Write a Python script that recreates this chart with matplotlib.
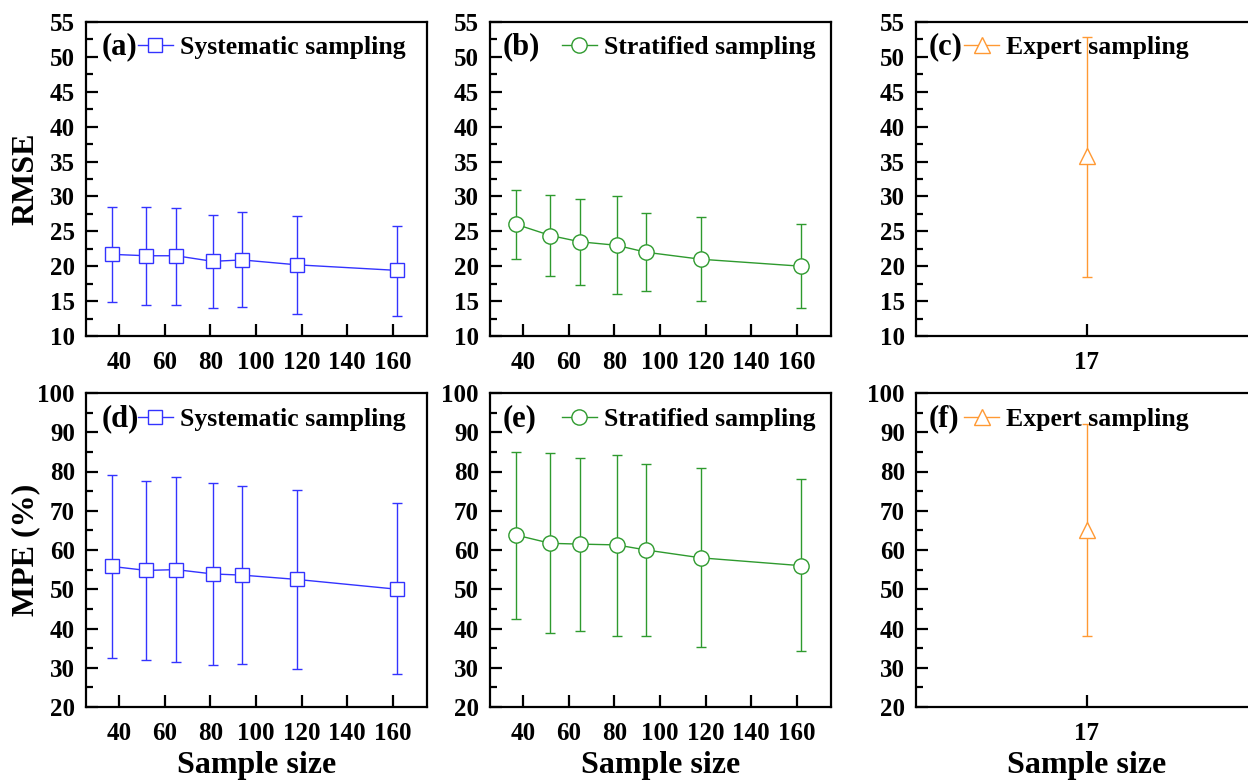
import matplotlib
matplotlib.use("Agg")
import matplotlib.pyplot as plt
from matplotlib.lines import Line2D
from matplotlib.ticker import MultipleLocator

plt.rcParams['font.family'] = ['Liberation Serif', 'DejaVu Serif']
plt.rcParams['font.weight'] = 'bold'

# sample sizes
n_sys = [37, 52, 65, 81, 94, 118, 162]
n_str = [37, 52, 65, 81, 94, 118, 162]
n_exp = [17]

# RMSE (mean, upper, lower)
rmse_sys = [21.7, 21.5, 21.5, 20.7, 20.9, 20.2, 19.4]
rmse_sys_hi = [28.5, 28.5, 28.4, 27.4, 27.8, 27.2, 25.8]
rmse_sys_lo = [14.9, 14.5, 14.5, 14.0, 14.1, 13.2, 12.9]
rmse_str = [26.0, 24.4, 23.5, 23.0, 22.0, 21.0, 20.0]
rmse_str_hi = [30.9, 30.2, 29.7, 30.0, 27.6, 27.0, 26.1]
rmse_str_lo = [21.0, 18.6, 17.3, 16.0, 16.4, 15.0, 14.0]
rmse_exp = [35.8]
rmse_exp_hi = [52.8]
rmse_exp_lo = [18.5]

# MPE (%) (mean, upper, lower)
mpe_sys = [55.8, 54.8, 55.0, 53.9, 53.6, 52.5, 50.0]
mpe_sys_hi = [79.2, 77.5, 78.6, 77.1, 76.3, 75.4, 72.0]
mpe_sys_lo = [32.4, 31.9, 31.4, 30.7, 31.0, 29.6, 28.3]
mpe_str = [63.8, 61.7, 61.5, 61.3, 60.0, 58.0, 56.0]
mpe_str_hi = [85.0, 84.6, 83.4, 84.3, 82.0, 80.9, 78.0]
mpe_str_lo = [42.3, 38.8, 39.3, 38.0, 38.0, 35.2, 34.2]
mpe_exp = [65.0]
mpe_exp_hi = [92.0]
mpe_exp_lo = [38.0]

c_sys = '#3333ff'
c_str = '#2e9a2e'
c_exp = '#ff9933'

W, H = 1248, 781
fig = plt.figure(figsize=(W / 100, H / 100), dpi=100)


def make_ax(left, top):
    return fig.add_axes([left / W, 1 - (top + 314) / H, 341 / W, 314 / H])


def panel(ax, x, y, hi, lo, color, marker, ms, label, tag, tag_x, leg_x, leg_y):
    yerr = [[m - l for m, l in zip(y, lo)], [h - m for m, h in zip(y, hi)]]
    ax.errorbar(x, y, yerr=yerr, color=color, lw=1.0, elinewidth=1.0,
                capsize=3.6, capthick=1.0, marker=marker, ms=ms,
                mfc='white', mec=color, mew=1.0, zorder=3)
    ax.text(tag_x, leg_y, tag, transform=ax.transAxes, fontsize=22,
            fontweight='bold', va='center', ha='left')
    handle = Line2D([], [], color=color, lw=1.0, marker=marker, ms=ms,
                    mfc='white', mec=color, mew=1.0)
    ax.legend([handle], [label], loc='center left', bbox_to_anchor=(leg_x, leg_y),
              frameon=False, borderpad=0, borderaxespad=0, handlelength=1.36,
              handletextpad=0.27, prop={'size': 18.5, 'weight': 'bold'})
    for s in ax.spines.values():
        s.set_linewidth(1.6)
    ax.tick_params(which='both', direction='in', top=False, right=False,
                   labelsize=18, width=1.6)
    ax.tick_params(axis='y', pad=8)
    ax.tick_params(axis='x', pad=11)
    ax.tick_params(which='major', length=8.5)
    ax.tick_params(which='minor', length=5)


rows = [
    (22, (10, 55), 5, 2.5, 'RMSE',
     [(n_sys, rmse_sys, rmse_sys_hi, rmse_sys_lo),
      (n_str, rmse_str, rmse_str_hi, rmse_str_lo),
      (n_exp, rmse_exp, rmse_exp_hi, rmse_exp_lo)], ['(a)', '(b)', '(c)'], 0.92),
    (393, (20, 100), 10, 5, 'MPE (%)',
     [(n_sys, mpe_sys, mpe_sys_hi, mpe_sys_lo),
      (n_str, mpe_str, mpe_str_hi, mpe_str_lo),
      (n_exp, mpe_exp, mpe_exp_hi, mpe_exp_lo)], ['(d)', '(e)', '(f)'], 0.917),
]

lefts = [86, 490, 916]
styles = [(c_sys, 's', 9.5, 'Systematic sampling', 0.047, 0.152),
          (c_str, 'o', 11, 'Stratified sampling', 0.038, 0.211),
          (c_exp, '^', 12, 'Expert sampling', 0.038, 0.141)]

for top, ylim, major, minor, ylab, series, tags, leg_y in rows:
    for j in range(3):
        ax = make_ax(lefts[j], top)
        x, y, hi, lo = series[j]
        color, marker, ms, label, tag_x, leg_x = styles[j]
        panel(ax, x, y, hi, lo, color, marker, ms, label, tags[j], tag_x, leg_x, leg_y)
        ax.set_ylim(*ylim)
        ax.yaxis.set_major_locator(MultipleLocator(major))
        ax.yaxis.set_minor_locator(MultipleLocator(minor))
        if j < 2:
            ax.set_xlim(25.5, 175)
            ax.xaxis.set_major_locator(MultipleLocator(20))
        else:
            ax.set_xlim(16, 18)
            ax.set_xticks([17])
        if j == 0:
            ax.set_ylabel(ylab, fontsize=23, fontweight='bold')
            ax.yaxis.set_label_coords(-0.135, 0.5)
        if top > 100:
            ax.set_xlabel('Sample size', fontsize=23, fontweight='bold')
            ax.xaxis.set_label_coords(0.5, -0.14)

fig.savefig('out.png', dpi=100)
